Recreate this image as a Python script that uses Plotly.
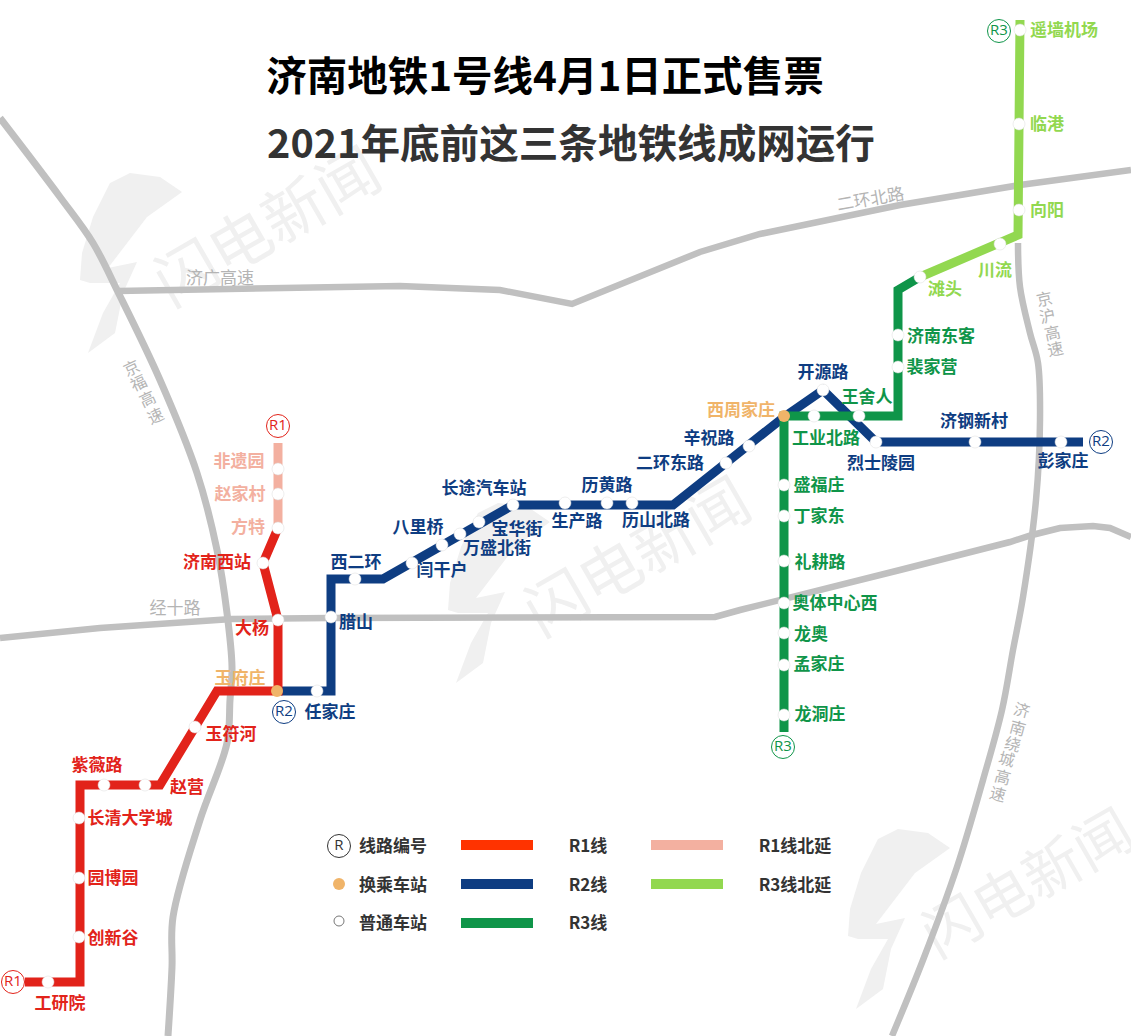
import plotly.graph_objects as go

FONT = "Noto Sans CJK SC"

RED = "#e2231a"
RED_EXT = "#f3b0a0"
BLUE = "#0e3d82"
GREEN = "#0f9549"
GREEN_EXT = "#92d850"
ORANGE = "#f0b469"
ROAD = "#c0c0c0"
ROAD_TEXT = "#b4b4b4"
WATERMARK = "#f0f0f0"
LABEL_DY = 2

# road paths
road_jingfu_x = [0, 60, 93, 118, 160, 197, 217, 227, 232, 230, 227, 200, 173, 172, 168]
road_jingfu_y = [118, 197, 243, 292, 380, 473, 550, 613, 667, 700, 743, 820, 917, 967, 1036]
road_jiguang_x = [118, 250, 400, 500, 572, 700, 760, 900, 1020, 1131]
road_jiguang_y = [291, 288, 286, 290, 304, 252, 234, 205, 185, 170]
road_huan_x = [1018, 1020, 1030, 1038, 1040, 1036, 1023, 1013, 1002, 983, 957, 923, 892]
road_huan_y = [243, 287, 333, 363, 420, 500, 597, 650, 710, 780, 867, 960, 1036]
road_jingshi_x = [0, 100, 232, 330, 715, 740, 900, 960, 1010, 1032, 1060, 1093, 1110, 1131]
road_jingshi_y = [638, 628, 619, 618, 617, 610, 570, 555, 542, 535, 528, 526, 528, 537]

# metro lines
r1_x = [25, 80, 80, 160, 217, 278, 278, 263, 278]
r1_y = [982, 982, 785, 785, 691, 691, 620, 563, 528]
r1_ext_x = [278, 278]
r1_ext_y = [528, 443]
r2_x = [278, 331, 331, 383, 513, 673, 784, 823, 876, 1083]
r2_y = [691, 691, 579, 579, 505, 505, 417, 390, 442, 442]
r3_x = [784, 784, 898, 898, 920]
r3_y = [732, 416, 416, 290, 277]
r3_ext_x = [920, 1000, 1018, 1020]
r3_ext_y = [277, 244, 235, 20]

# stations
station_x = [48, 79, 79, 79, 104, 145, 195, 278, 263, 278, 278, 278,
             317, 331, 355, 412, 442, 460, 479, 513, 565, 607, 632, 726, 749, 823, 876, 975, 1061,
             814, 859, 898, 898, 920, 1000, 1019, 1019, 1020, 784, 784, 784, 784, 784, 784, 784]
station_y = [982, 937, 878, 818, 785, 785, 727, 620, 563, 528, 494, 469,
             691, 617, 579, 563, 545, 534, 522, 505, 503, 503, 503, 463, 446, 390, 442, 442, 442,
             416, 416, 367, 335, 277, 244, 210, 124, 30, 485, 516, 561, 603, 633, 665, 715]
transfer_x = [277, 784]
transfer_y = [691, 416]

# station labels, one group per colour
red_names = ["济南西站", "大杨", "玉符河", "赵营", "紫薇路", "长清大学城", "园博园", "创新谷", "工研院"]
red_label_x = [217, 252, 231, 187, 97, 130, 113, 113, 60]
red_label_y = [562, 628, 734, 787, 765, 818, 878, 938, 1003]
red_ext_names = ["非遗园", "赵家村", "方特"]
red_ext_label_x = [239, 240, 248]
red_ext_label_y = [461, 494, 527]
orange_names = ["玉府庄", "西周家庄"]
orange_label_x = [240, 741]
orange_label_y = [678, 410]
blue_names = ["任家庄", "腊山", "西二环", "闫干户", "八里桥", "万盛北街", "宝华街", "长途汽车站", "生产路",
              "历黄路", "历山北路", "二环东路", "辛祝路", "开源路", "烈士陵园", "济钢新村", "彭家庄"]
blue_label_x = [330, 356, 356, 442, 418, 497, 517, 484, 577, 607, 656, 670, 709, 823, 881, 974, 1063]
blue_label_y = [712, 622, 562, 570, 527, 548, 529, 488, 521, 485, 520, 463, 438, 372, 463, 421, 461]
green_names = ["工业北路", "王舍人", "裴家营", "济南东客", "盛福庄", "丁家东", "礼耕路", "奥体中心西", "龙奥", "孟家庄", "龙洞庄"]
green_label_x = [826, 867, 932, 941, 819, 819, 820, 835, 811, 819, 820]
green_label_y = [438, 397, 367, 336, 485, 516, 562, 603, 634, 664, 714]
green_ext_names = ["滩头", "川流", "向阳", "临港", "遥墙机场"]
green_ext_label_x = [945, 995, 1047, 1047, 1064]
green_ext_label_y = [289, 270, 210, 124, 30]

# line number badges
badge_names = ["R1", "R1", "R2", "R2", "R3", "R3", "R"]
badge_x = [278, 13, 284, 1101, 999, 783, 339]
badge_y = [426, 982, 712, 442, 31, 747, 846]
badge_colors = [RED, RED, BLUE, BLUE, GREEN, GREEN, "#333333"]

# legend
legend_names = ["线路编号", "换乘车站", "普通车站", "R1线", "R2线", "R3线", "R1线北延", "R3线北延"]
legend_text_x = [393, 393, 393, 588, 588, 588, 795, 795]
legend_text_y = [846, 885, 923, 846, 885, 923, 846, 885]
swatch_x0 = [461, 461, 461, 651, 651]
swatch_x1 = [533, 533, 533, 723, 723]
swatch_y = [845, 884, 923, 845, 884]
swatch_colors = ["#ff3300", BLUE, GREEN, RED_EXT, GREEN_EXT]

# road names written along the road, one character at a time
jingfu_chars = ["京", "福", "高", "速"]
jingfu_char_x = [131, 138, 147, 155]
jingfu_char_y = [367, 382, 398, 415]
jinghu_chars = ["京", "沪", "高", "速"]
jinghu_char_x = [1044, 1047, 1052, 1055]
jinghu_char_y = [298, 315, 332, 348]
raocheng_chars = ["济", "南", "绕", "城", "高", "速"]
raocheng_char_x = [1022, 1018, 1013, 1007, 1003, 998]
raocheng_char_y = [709, 727, 743, 758, 776, 793]

# watermark logo outline and where it repeats
logo_x = [182, 160, 130, 110, 93, 82, 80, 90, 120, 103, 88, 115, 123, 137, 108, 122, 147, 182]
logo_y = [192, 177, 173, 183, 217, 253, 280, 283, 283, 313, 353, 333, 293, 262, 268, 250, 217, 192]
logo_dx = [0, 368, 768]
logo_dy = [0, 330, 656]
mark_x = [270, 640, 1030]
mark_y = [231, 561, 887]
mark_size = [62, 62, 58]

fig = go.Figure()


def add_line(x, y, color, width, shape="linear"):
    fig.add_trace(go.Scatter(x=x, y=y, mode="lines", hoverinfo="skip",
                             line=dict(color=color, width=width, shape=shape)))


def add_labels(names, x, y, color, size=17, weight="bold"):
    fig.add_trace(go.Scatter(x=x, y=[v + LABEL_DY for v in y], mode="text", text=names, hoverinfo="skip",
                             textposition="middle center",
                             textfont=dict(family=FONT, size=size, color=color, weight=weight)))


def add_road_chars(chars, x, y, angle):
    for c, cx, cy in zip(chars, x, y):
        fig.add_annotation(x=cx, y=cy, text=c, showarrow=False, textangle=angle,
                           font=dict(family=FONT, size=16, color=ROAD_TEXT))


for i in range(3):
    fig.add_trace(go.Scatter(x=[v + logo_dx[i] for v in logo_x], y=[v + logo_dy[i] for v in logo_y],
                             mode="lines", fill="toself", fillcolor=WATERMARK,
                             line=dict(width=0), hoverinfo="skip"))
    # annotations would sit above the lines, a shape label stays below them
    fig.add_shape(type="rect", layer="below", line_width=0,
                  x0=mark_x[i] - 100, x1=mark_x[i] + 100, y0=mark_y[i] - 40, y1=mark_y[i] + 40,
                  label=dict(text="闪电新闻", textangle=-30, textposition="middle center",
                             font=dict(family=FONT, size=mark_size[i], color=WATERMARK)))

add_line(road_jingfu_x, road_jingfu_y, ROAD, 7, "spline")
add_line(road_jiguang_x, road_jiguang_y, ROAD, 6.5)
add_line(road_huan_x, road_huan_y, ROAD, 6.5, "spline")
add_line(road_jingshi_x, road_jingshi_y, ROAD, 6.5)

add_line(r2_x, r2_y, BLUE, 9)
add_line(r3_x, r3_y, GREEN, 9)
add_line(r3_ext_x, r3_ext_y, GREEN_EXT, 9)
add_line(r1_ext_x, r1_ext_y, RED_EXT, 9)
add_line(r1_x, r1_y, RED, 9)

fig.add_trace(go.Scatter(x=station_x, y=station_y, mode="markers", hoverinfo="skip",
                         marker=dict(size=12, color="white", line=dict(color="#dddddd", width=0.5))))
fig.add_trace(go.Scatter(x=transfer_x, y=transfer_y, mode="markers", hoverinfo="skip",
                         marker=dict(size=12, color=ORANGE)))

add_labels(red_names, red_label_x, red_label_y, RED)
add_labels(red_ext_names, red_ext_label_x, red_ext_label_y, RED_EXT)
add_labels(orange_names, orange_label_x, orange_label_y, ORANGE)
add_labels(blue_names, blue_label_x, blue_label_y, BLUE)
add_labels(green_names, green_label_x, green_label_y, GREEN)
add_labels(green_ext_names, green_ext_label_x, green_ext_label_y, GREEN_EXT)

for name, x, y, color in zip(badge_names, badge_x, badge_y, badge_colors):
    fig.add_trace(go.Scatter(x=[x], y=[y], mode="markers+text", text=[name], hoverinfo="skip",
                             textposition="middle center",
                             textfont=dict(family="Open Sans", size=15, color=color),
                             marker=dict(size=23, color="white", line=dict(color=color, width=1))))

# legend
for x0, x1, y, color in zip(swatch_x0, swatch_x1, swatch_y, swatch_colors):
    add_line([x0, x1], [y, y], color, 10)
fig.add_trace(go.Scatter(x=[339], y=[884], mode="markers", hoverinfo="skip",
                         marker=dict(size=12, color=ORANGE)))
fig.add_trace(go.Scatter(x=[339], y=[921], mode="markers", hoverinfo="skip",
                         marker=dict(size=10, color="white", line=dict(color="#777777", width=1))))
add_labels(legend_names, legend_text_x, legend_text_y, "#333333")

# road names
add_labels(["济广高速", "经十路"], [220, 175], [278, 608], ROAD_TEXT, weight="normal")
fig.add_annotation(x=870, y=197, text="二环北路", showarrow=False, textangle=-10,
                   font=dict(family=FONT, size=17, color=ROAD_TEXT))
add_road_chars(jingfu_chars, jingfu_char_x, jingfu_char_y, -25)
add_road_chars(jinghu_chars, jinghu_char_x, jinghu_char_y, -12)
add_road_chars(raocheng_chars, raocheng_char_x, raocheng_char_y, 15)

# title
add_labels(["济南地铁1号线4月1日正式售票"], [545], [79], "#000000", size=40.5)
add_labels(["2021年底前这三条地铁线成网运行"], [571], [146], "#333333", size=39.6)

fig.update_layout(width=1131, height=1036, showlegend=False,
                  margin=dict(l=0, r=0, t=0, b=0),
                  paper_bgcolor="white", plot_bgcolor="white",
                  xaxis=dict(range=[0, 1131], visible=False, fixedrange=True),
                  yaxis=dict(range=[1036, 0], visible=False, fixedrange=True))

fig.write_html("out.html", config=dict(displayModeBar=False),
               post_script="document.body.style.margin='0';")
